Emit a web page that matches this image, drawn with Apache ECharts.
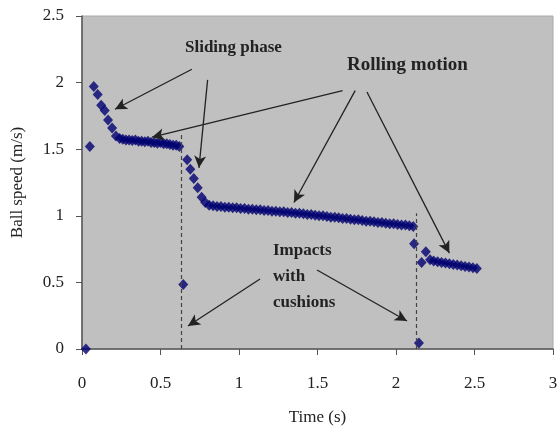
<!DOCTYPE html>
<html>
<head>
<meta charset="utf-8">
<script src="https://cdn.jsdelivr.net/npm/echarts@6/dist/echarts.min.js"></script>
<style>
  html, body { margin: 0; padding: 0; background: #fff; }
  #chart { width: 557px; height: 426px; }
</style>
</head>
<body>
<div id="chart"></div>
<script>
const timeStart = [0.025, 0.05];
const speedStart = [0.0, 1.52];

const timeSlide1 = [0.075, 0.10, 0.122, 0.145, 0.166, 0.192, 0.216];
const speedSlide1 = [1.97, 1.91, 1.83, 1.79, 1.72, 1.66, 1.60];

const timeRoll1 = [0.24, 0.26, 0.28, 0.30, 0.32, 0.34, 0.36, 0.38, 0.40, 0.42,
  0.44, 0.46, 0.48, 0.50, 0.52, 0.54, 0.56, 0.58, 0.60, 0.62];
const speedRoll1 = [1.58, 1.575, 1.57, 1.57, 1.565, 1.57, 1.56, 1.56, 1.555, 1.56,
  1.55, 1.55, 1.545, 1.55, 1.54, 1.54, 1.535, 1.53, 1.53, 1.52];

const timeImpact1 = [0.645];
const speedImpact1 = [0.485];

const timeSlide2 = [0.67, 0.69, 0.712, 0.737, 0.762];
const speedSlide2 = [1.42, 1.35, 1.28, 1.21, 1.14];

const timeRoll2 = [0.785, 0.81, 0.835, 0.86, 0.885, 0.91, 0.935, 0.96, 0.985, 1.01,
  1.035, 1.06, 1.085, 1.11, 1.135, 1.16, 1.185, 1.21, 1.235, 1.26,
  1.285, 1.31, 1.335, 1.36, 1.385, 1.41, 1.435, 1.46, 1.485, 1.51,
  1.535, 1.56, 1.585, 1.61, 1.635, 1.66, 1.685, 1.71, 1.735, 1.76,
  1.785, 1.81, 1.835, 1.86, 1.885, 1.91, 1.935, 1.96, 1.985, 2.01,
  2.035, 2.06, 2.085, 2.11];
const speedRoll2 = [1.10, 1.08, 1.075, 1.07, 1.07, 1.065, 1.065, 1.06, 1.06, 1.055,
  1.055, 1.05, 1.05, 1.045, 1.045, 1.04, 1.04, 1.035, 1.035, 1.03,
  1.03, 1.025, 1.025, 1.02, 1.02, 1.015, 1.01, 1.01, 1.005, 1.00,
  1.00, 0.995, 0.99, 0.99, 0.985, 0.98, 0.98, 0.975, 0.97, 0.97,
  0.965, 0.96, 0.96, 0.955, 0.95, 0.95, 0.945, 0.94, 0.94, 0.935,
  0.93, 0.93, 0.925, 0.92];

const timeImpact2 = [2.115, 2.146, 2.163, 2.19];
const speedImpact2 = [0.79, 0.045, 0.65, 0.73];

const timeRoll3 = [2.217, 2.24, 2.265, 2.29, 2.315, 2.34, 2.365, 2.39, 2.415, 2.44,
  2.465, 2.49, 2.515];
const speedRoll3 = [0.67, 0.66, 0.655, 0.65, 0.645, 0.64, 0.635, 0.63, 0.625, 0.62,
  0.615, 0.61, 0.605];

// cushion impact times and the height of the dashed markers
const cushionTimes = [0.635, 2.13];
const cushionTops = [1.61, 1.02];

// annotation arrows in data units: [fromTime, fromSpeed, toTime, toSpeed]
const arrows = [
  [0.70, 2.10, 0.21, 1.80],
  [0.80, 2.02, 0.745, 1.36],
  [1.66, 1.94, 0.446, 1.59],
  [1.74, 1.94, 1.35, 1.10],
  [1.815, 1.93, 2.34, 0.72],
  [1.134, 0.526, 0.675, 0.173],
  [1.497, 0.593, 2.07, 0.21]
];

const xTicks = { min: 0, max: 3, step: 0.5 };
const yTicks = { min: 0, max: 2.5, step: 0.5 };

const times = [].concat(timeStart, timeSlide1, timeRoll1, timeImpact1,
  timeSlide2, timeRoll2, timeImpact2, timeRoll3);
const speeds = [].concat(speedStart, speedSlide1, speedRoll1, speedImpact1,
  speedSlide2, speedRoll2, speedImpact2, speedRoll3);
const points = times.map((t, i) => [t, speeds[i]]);

const serif = '"Liberation Serif", "DejaVu Serif", serif';
const chart = echarts.init(document.getElementById('chart'));

chart.setOption({
  animation: false,
  grid: {
    left: 82, right: 4, top: 16, bottom: 77,
    outerBoundsMode: 'none',
    containLabel: false,
    show: true,
    backgroundColor: '#c0c0c0',
    borderColor: '#a8a8a8',
    borderWidth: 1
  },
  xAxis: {
    type: 'value',
    min: xTicks.min, max: xTicks.max, interval: xTicks.step,
    name: 'Time (s)',
    nameLocation: 'middle',
    nameGap: 60,
    nameTextStyle: { fontFamily: serif, fontSize: 17, color: '#222' },
    axisLine: { lineStyle: { color: '#555', width: 1.5 } },
    axisTick: { show: true, length: 6, lineStyle: { color: '#555' } },
    axisLabel: { fontFamily: serif, fontSize: 17, color: '#222', margin: 26 },
    splitLine: { show: false }
  },
  yAxis: {
    type: 'value',
    min: yTicks.min, max: yTicks.max, interval: yTicks.step,
    name: 'Ball speed (m/s)',
    nameLocation: 'middle',
    nameRotate: 90,
    nameGap: 56,
    nameTextStyle: { fontFamily: serif, fontSize: 17, color: '#222' },
    axisLine: { show: true, lineStyle: { color: '#555', width: 1.5 } },
    axisTick: { show: true, length: 6, lineStyle: { color: '#555' } },
    axisLabel: { fontFamily: serif, fontSize: 17, color: '#222', margin: 18 },
    splitLine: { show: false }
  },
  graphic: [
    {
      type: 'text', left: 185, top: 39,
      style: { text: 'Sliding phase', font: 'bold 17px ' + serif, fill: '#222' }
    },
    {
      type: 'text', left: 347, top: 56,
      style: { text: 'Rolling motion', font: 'bold 19px ' + serif, fill: '#222' }
    },
    {
      type: 'text', left: 273, top: 238,
      style: {
        text: 'Impacts\nwith\ncushions',
        font: 'bold 17px ' + serif, lineHeight: 26, fill: '#222'
      }
    }
  ],
  series: [
    {
      type: 'scatter',
      data: points,
      symbol: 'diamond',
      symbolSize: [10, 11],
      itemStyle: { color: '#000070' },
      z: 3
    },
    {
      type: 'line',
      data: [],
      markLine: {
        silent: true,
        symbol: ['none', 'none'],
        label: { show: false },
        lineStyle: { color: '#444', type: [4, 3], width: 1.2 },
        data: cushionTimes.map((t, i) => [
          { coord: [t, 0] },
          { coord: [t, cushionTops[i]] }
        ])
      }
    },
    {
      type: 'line',
      data: [],
      markLine: {
        silent: true,
        symbol: ['none', 'arrow'],
        symbolSize: [9, 12],
        label: { show: false },
        lineStyle: { color: '#222', type: 'solid', width: 1.3 },
        data: arrows.map(a => [
          { coord: [a[0], a[1]] },
          { coord: [a[2], a[3]] }
        ])
      }
    }
  ]
});
</script>
</body>
</html>
